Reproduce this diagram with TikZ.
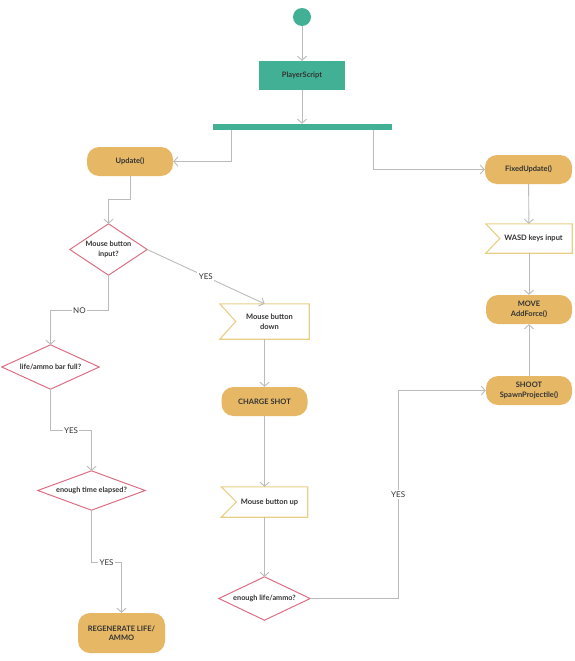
\documentclass[tikz,border=0pt]{standalone}
\usepackage{fontspec}
\setmainfont{Lato}
\usetikzlibrary{arrows.meta,calc}
\definecolor{teal1}{HTML}{42B095}
\definecolor{gold1}{HTML}{E6B866}
\definecolor{pink1}{HTML}{DD6F84}
\definecolor{flagc}{HTML}{E8CF88}
\definecolor{linec}{HTML}{BBBBBB}
\definecolor{txt}{HTML}{333333}
\tikzset{
 base/.style={inner sep=0pt, align=center, text=txt, font=\fontsize{7.5}{9.5}\selectfont\bfseries},
 rbox/.style={base, fill=gold1, rounded corners=12pt, minimum width=86pt, minimum height=29pt},
 tbox/.style={base, fill=teal1, minimum width=86pt, minimum height=29pt},
 dbox/.style={base, font=\fontsize{7.3}{9.5}\selectfont\bfseries},
 fbox/.style={base, font=\fontsize{7.5}{9.5}\selectfont\bfseries},
 dframe/.style={draw=pink1, line width=1pt},
 fframe/.style={draw=flagc, line width=1.1pt},
 arr/.style={draw=linec, line width=0.9pt, -{Straight Barb[length=4pt,width=9pt]}},
 lbl/.style={fill=white, inner sep=1.5pt, text=txt, font=\fontsize{8}{9}\selectfont},
}
\begin{document}
\begin{tikzpicture}[x=1pt,y=-1pt]
\fill[white] (0,0) rectangle (575,661);
\useasboundingbox (0,0) rectangle (575,661);

% top
\node[circle, fill=teal1, minimum size=18pt, inner sep=0pt] (st) at (302,17) {};
\node[tbox] (ps) at (302,75.5) {PlayerScript};
\node[fill=teal1, minimum width=179pt, minimum height=6pt, inner sep=0pt] (bar) at (302.5,127) {};
\coordinate (bl) at (231,130);
\coordinate (br) at (373,130);

% right column
\node[rbox] (upd) at (130,161.5) {Update()};
\node[rbox, minimum width=87pt] (fix) at (528.5,169.5) {FixedUpdate()};
\node[fbox, minimum width=86pt, minimum height=29pt] (wasd) at (529,238.5) {\hspace*{9pt}WASD keys input};
\draw[fframe] (wasd.north west) -- (wasd.north east) -- (wasd.south east) -- (wasd.south west) -- ([xshift=14pt]wasd.west) -- cycle;
\node[rbox] (move) at (529,309.5) {MOVE\\AddForce()};
\node[rbox] (shoot) at (529,390.5) {SHOOT\\SpawnProjectile()};

% middle column
\node[fbox, minimum width=89pt, minimum height=35pt] (mbd) at (264.5,321.5) {\hspace*{10pt}Mouse button\\\hspace*{10pt}down};
\draw[fframe] (mbd.north west) -- (mbd.north east) -- (mbd.south east) -- (mbd.south west) -- ([xshift=16pt]mbd.west) -- cycle;
\node[rbox] (charge) at (264.5,401.5) {CHARGE SHOT};
\node[fbox, minimum width=86pt, minimum height=30pt] (mbu) at (264.5,502) {\hspace*{10pt}Mouse button up};
\draw[fframe] (mbu.north west) -- (mbu.north east) -- (mbu.south east) -- (mbu.south west) -- ([xshift=15pt]mbu.west) -- cycle;
\node[dbox, minimum width=91pt, minimum height=43pt] (d4) at (264.5,598.5) {enough life/ammo?};
\draw[dframe] (d4.north) -- (d4.east) -- (d4.south) -- (d4.west) -- cycle;

% left column
\node[dbox, minimum width=77pt, minimum height=51pt] (d1) at (108.5,249.5) {Mouse button\\input?};
\draw[dframe] (d1.north) -- (d1.east) -- (d1.south) -- (d1.west) -- cycle;
\node[dbox, minimum width=97pt, minimum height=44pt] (d2) at (50.5,367) {life/ammo bar full?};
\draw[dframe] (d2.north) -- (d2.east) -- (d2.south) -- (d2.west) -- cycle;
\node[dbox, minimum width=107pt, minimum height=39pt] (d3) at (91.5,490.5) {enough time elapsed?};
\draw[dframe] (d3.north) -- (d3.east) -- (d3.south) -- (d3.west) -- cycle;
\node[rbox, minimum width=87pt, minimum height=40pt] (regen) at (121.5,633) {REGENERATE LIFE/\\AMMO};

% connectors
\draw[arr] (st) -- (ps);
\draw[arr] (ps) -- (ps.south |- bar.north);
\draw[arr] (bl) |- (upd.east);
\draw[arr] (br) |- (fix.west);
\draw[arr] (upd.south) -- ++(0,23.5) -| (d1.north);
\draw[arr] (fix) -- (wasd);
\draw[arr] (wasd) -- (move);
\draw[arr] (shoot) -- (move);
\draw[arr] (d1.east) -- node[lbl, pos=0.5]{YES} (mbd.north);
\draw[arr] (d1.south) -- ++(0,35) -| node[lbl, pos=0.25]{NO} (d2.north);
\draw[arr] (d2.south) -- ++(0,41) -| node[lbl, pos=0.25]{YES} (d3.north);
\draw[arr] (d3.south) -- ++(0,52) -| node[lbl, pos=0.25]{YES} (regen.north);
\draw[arr] (mbd) -- (charge);
\draw[arr] (charge) -- (mbu);
\draw[arr] (mbu) -- (d4.north);
\draw[arr] (d4.east) -- ++(88,0) |- node[lbl, pos=0.25]{YES} (shoot.west);
\end{tikzpicture}
\end{document}
